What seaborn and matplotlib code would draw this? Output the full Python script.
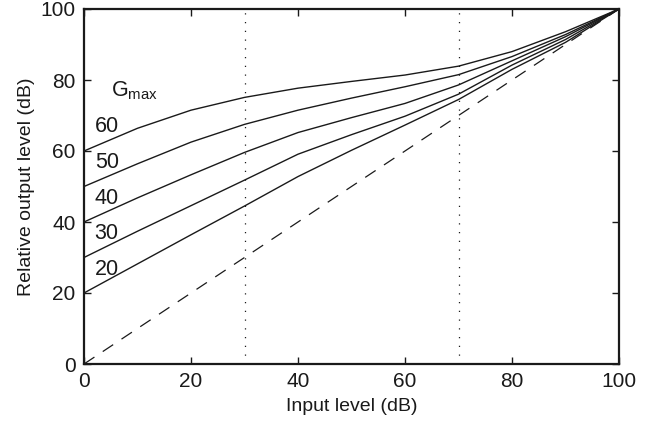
import matplotlib
matplotlib.use("Agg")
import matplotlib.pyplot as plt
import seaborn as sns
import pandas as pd

# Data
input_level = [0, 10, 20, 30, 40, 50, 60, 70, 80, 90, 100]
gmax_values = [60, 50, 40, 30, 20]
out_g60 = [60, 66.4, 71.5, 75.1, 77.7, 79.6, 81.4, 83.9, 88.0, 93.6, 100]
out_g50 = [50, 56.4, 62.5, 67.5, 71.5, 74.9, 78.1, 81.5, 86.6, 92.8, 100]
out_g40 = [40, 46.8, 53.3, 59.6, 65.2, 69.4, 73.4, 78.6, 85.4, 92.2, 100]
out_g30 = [30, 37.4, 44.6, 51.8, 59.1, 64.6, 69.8, 76.0, 84.2, 91.4, 100]
out_g20 = [20, 28.2, 36.4, 44.5, 52.8, 60.2, 67.3, 74.5, 83.0, 90.6, 100]
reference_x = [0, 100]
reference_y = [0, 100]
marker_levels = [30, 70]
label_y = [66.8, 56.9, 46.6, 36.8, 26.6]
x_ticks = [0, 20, 40, 60, 80, 100]
y_ticks = [0, 20, 40, 60, 80, 100]

outputs = [out_g60, out_g50, out_g40, out_g30, out_g20]
rows = []
for g, ys in zip(gmax_values, outputs):
    for x, y in zip(input_level, ys):
        rows.append({"Input": x, "Output": y, "Gmax": g})
df = pd.DataFrame(rows)

sns.set_style("ticks")
plt.rcParams["font.family"] = ["Liberation Sans", "DejaVu Sans"]
plt.rcParams["mathtext.fontset"] = "custom"
plt.rcParams["mathtext.rm"] = "Liberation Sans"

fig = plt.figure(figsize=(6.61, 4.26), dpi=100)
ax = fig.add_axes([84 / 661, 62 / 426, 535 / 661, 355 / 426])

sns.lineplot(data=df, x="Input", y="Output", hue="Gmax",
             palette={g: "#1a1a1a" for g in gmax_values},
             estimator=None, legend=False, lw=1.0, ax=ax)
sns.lineplot(x=reference_x, y=reference_y, color="#1a1a1a", lw=0.9,
             linestyle=(0, (10, 8)), ax=ax)
for xm in marker_levels:
    ax.axvline(xm, color="#1a1a1a", lw=0.9, linestyle=(0, (1, 6)))

for g, yl in zip(gmax_values, label_y):
    ax.text(2.0, yl, str(g), fontsize=15.5, ha="left", va="center", color="#1a1a1a")
ax.text(5.0, 77, r"G$_{\mathregular{max}}$", fontsize=15.5, ha="left",
        va="center", color="#1a1a1a")

ax.set_xlim(0, 100)
ax.set_ylim(0, 100)
ax.set_xticks(x_ticks)
ax.set_yticks(y_ticks)
ax.tick_params(direction="in", length=5, width=1, top=True, right=True,
               labelsize=15, colors="#1a1a1a", pad=6)
for s in ax.spines.values():
    s.set_visible(True)
    s.set_linewidth(1.6)
    s.set_color("#1a1a1a")
ax.set_xlabel("Input level (dB)", fontsize=14, labelpad=5, color="#1a1a1a")
ax.set_ylabel("Relative output level (dB)", fontsize=14, labelpad=4, color="#1a1a1a")

fig.savefig("out.png", dpi=100)
